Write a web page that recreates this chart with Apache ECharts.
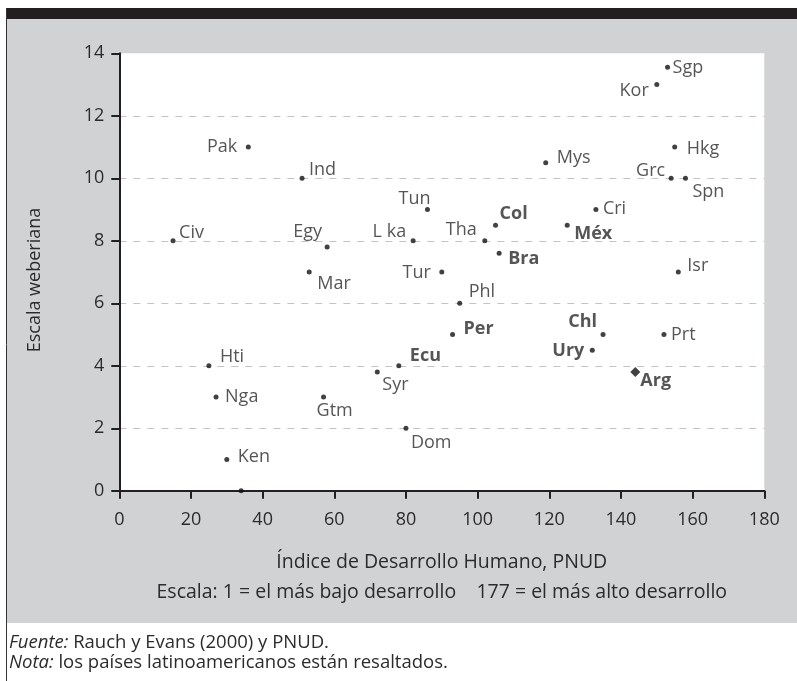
<!DOCTYPE html>
<html>
<head>
<meta charset="utf-8">
<script src="https://cdn.jsdelivr.net/npm/echarts@6/dist/echarts.min.js"></script>
<style>
  html, body { margin: 0; padding: 0; background: #fff; }
  #chart { width: 797px; height: 681px; }
</style>
</head>
<body>
<div id="chart"></div>
<script>
// datos
const countries = ['Sgp', 'Kor', 'Pak', 'Ind', 'Mys', 'Hkg', 'Grc', 'Spn', 'Tun', 'Col', 'Cri', 'Méx',
  'Civ', 'Egy', 'L ka', 'Tha', 'Bra', 'Mar', 'Tur', 'Isr', 'Phl', 'Per', 'Chl', 'Prt', 'Ury', 'Arg',
  'Hti', 'Ecu', 'Syr', 'Nga', 'Gtm', 'Dom', 'Ken', '']
const hdi = [153, 150, 36, 51, 119, 155, 154, 158, 86, 105, 133, 125,
  15, 58, 82, 102, 106, 53, 90, 156, 95, 93, 135, 152, 132, 144,
  25, 78, 72, 27, 57, 80, 30, 34]
const weber = [13.55, 13, 11, 10, 10.5, 11, 10, 10, 9, 8.5, 9, 8.5,
  8, 7.8, 8, 8, 7.6, 7, 7, 7, 6, 5, 5, 5, 4.5, 3.8,
  4, 4, 3.8, 3, 3, 2, 1, 0]
// países latinoamericanos (resaltados)
const latin = ['Col', 'Méx', 'Bra', 'Per', 'Chl', 'Ury', 'Arg', 'Ecu']
const xTicks = [0, 20, 40, 60, 80, 100, 120, 140, 160, 180]
const yTicks = [0, 2, 4, 6, 8, 10, 12, 14]

// posición de cada etiqueta respecto al punto: [dx, dy, align]
const labelPos = {
  'Sgp': [5, 1, 'left'], 'Kor': [-8, 6, 'right'], 'Pak': [-11, 0, 'right'], 'Ind': [7, -8, 'left'],
  'Mys': [11, -5, 'left'], 'Hkg': [12, 2, 'left'], 'Grc': [-6, -7, 'right'], 'Spn': [7, 14, 'left'],
  'Tun': [3, -11, 'right'], 'Col': [4, -11, 'left'], 'Cri': [7, -1, 'left'], 'Méx': [7, 9, 'left'],
  'Civ': [6, -8, 'left'], 'Egy': [-5, -15, 'right'], 'L ka': [-7, -9, 'right'], 'Tha': [-8, -11, 'right'],
  'Bra': [9, 6, 'left'], 'Mar': [8, 12, 'left'], 'Tur': [-11, 1, 'right'], 'Isr': [9, -6, 'left'],
  'Phl': [9, -11, 'left'], 'Per': [11, -6, 'left'], 'Chl': [-6, -13, 'right'], 'Prt': [7, 0, 'left'],
  'Ury': [-8, 1, 'right'], 'Arg': [5, 9, 'left'], 'Hti': [11, -9, 'left'], 'Ecu': [11, -10, 'left'],
  'Syr': [5, 13, 'left'], 'Nga': [9, 0, 'left'], 'Gtm': [-7, 14, 'left'], 'Dom': [5, 15, 'left'],
  'Ken': [11, -3, 'left']
}

const FONT = '"Open Sans"'
const INK = '#2b2b2b'

const points = countries.map((c, i) => {
  const p = labelPos[c]
  return {
    name: c,
    value: [hdi[i], weber[i]],
    symbol: c === 'Arg' ? 'diamond' : 'circle',
    symbolSize: c === 'Arg' ? 10 : 5,
    label: p ? {
      show: true,
      position: 'inside',
      align: p[2],
      verticalAlign: 'middle',
      offset: [p[0], p[1]],
      fontWeight: latin.includes(c) ? 'bold' : 'normal'
    } : { show: false }
  }
})

const chart = echarts.init(document.getElementById('chart'))
chart.setOption({
  backgroundColor: '#fff',
  animation: false,
  textStyle: { fontFamily: FONT },
  graphic: [
    // panel gris
    { type: 'rect', z: -100, silent: true, shape: { x: 7, y: 19, width: 790, height: 604 }, style: { fill: '#d1d2d4' } },
    // barra negra superior
    { type: 'rect', z: -90, silent: true, shape: { x: 6, y: 8, width: 791, height: 11 }, style: { fill: '#231f20' } },
    // borde izquierdo
    { type: 'line', z: -90, silent: true, shape: { x1: 6.5, y1: 8, x2: 6.5, y2: 681 }, style: { stroke: '#333', lineWidth: 1 } },
    {
      type: 'text', left: 9, top: 633,
      style: {
        text: '{i|Fuente:} Rauch y Evans (2000) y PNUD.\n{i|Nota:} los países latinoamericanos están resaltados.',
        font: '18.5px ' + FONT, fill: INK, lineHeight: 20,
        rich: { i: { fontStyle: 'italic', fontSize: 18.5, fontFamily: FONT, fill: INK } }
      }
    }
  ],
  grid: {
    left: 119.3, right: 32.7, top: 53.3, bottom: 190.2,
    show: true, backgroundColor: '#fff', borderWidth: 0
  },
  xAxis: {
    type: 'value', min: 0, max: 180, interval: 20,
    name: 'Índice de Desarrollo Humano, PNUD\nEscala: 1 = el más bajo desarrollo    177 = el más alto desarrollo',
    nameLocation: 'middle', nameGap: 57,
    nameTextStyle: { fontSize: 19.5, color: INK, lineHeight: 30, fontFamily: FONT },
    axisLine: { lineStyle: { color: '#231f20', width: 2 } },
    axisTick: { show: true, length: 8, lineStyle: { color: '#231f20', width: 2 } },
    axisLabel: { fontSize: 18, color: INK, margin: 20, formatter: v => xTicks.includes(v) ? String(v) : '' },
    splitLine: { show: false }
  },
  yAxis: {
    type: 'value', min: 0, max: 14, interval: 2,
    name: 'Escala weberiana',
    nameLocation: 'middle', nameGap: 75,
    nameTextStyle: { fontSize: 18, color: INK, padding: [0, 16, 0, 0], fontFamily: FONT },
    axisLine: { show: true, lineStyle: { color: '#231f20', width: 2 } },
    axisTick: { show: true, length: 8, lineStyle: { color: '#231f20', width: 2 } },
    axisLabel: { fontSize: 18, color: INK, margin: 15, formatter: v => yTicks.includes(v) ? String(v) : '' },
    splitLine: {
      show: true,
      lineStyle: { color: '#c4c4c4', type: [7, 7], width: 1 },
      showMinLine: false, showMaxLine: false
    }
  },
  series: [{
    type: 'scatter',
    data: points,
    itemStyle: { color: '#111' },
    label: { formatter: '{b}', fontSize: 18, color: INK, fontFamily: FONT },
    emphasis: { disabled: true }
  }]
})
</script>
</body>
</html>
